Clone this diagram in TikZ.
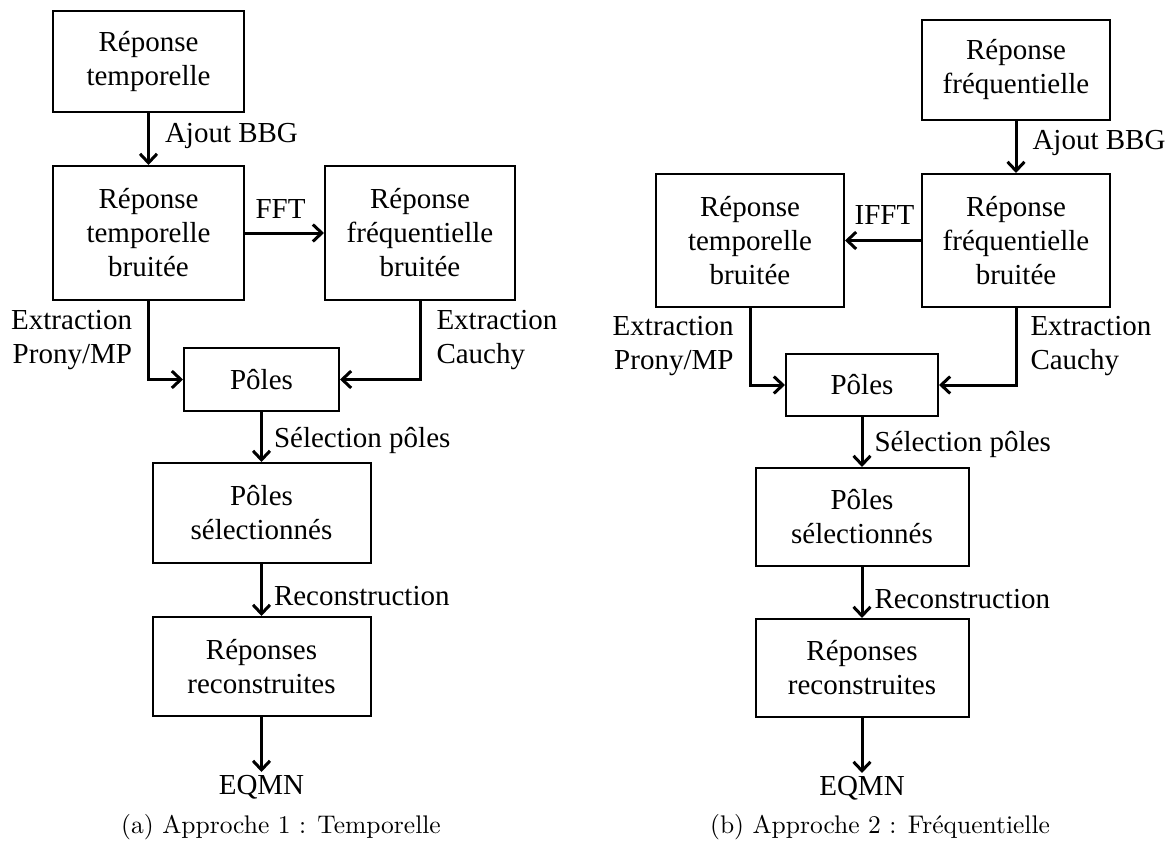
\documentclass[tikz,border=0pt]{standalone}
\usepackage{fontspec}
\usetikzlibrary{positioning,arrows.meta}
\IfFontExistsTF{LiberationSerif-Regular.ttf}
  {\setmainfont{LiberationSerif-Regular.ttf}}
  {\setmainfont{Liberation Serif}}
\newfontfamily\capfont{lmroman10-regular.otf}
\tikzset{
  >={Straight Barb[length=9pt,width=17pt]},
}

\begin{document}
\begin{tikzpicture}[
  x=1pt,y=-1pt,
  box/.style={draw, line width=2pt, align=center, inner sep=0pt,
    font=\fontsize{29}{34}\selectfont},
  lbl/.style={inner sep=3pt, font=\fontsize{29}{34}\selectfont},
  arr/.style={->, line width=3pt},
  captxt/.style={font=\capfont\fontsize{25.5}{30}\selectfont}
]
\useasboundingbox (0,0) rectangle (1171,843);

% (a) approche temporelle
\node[box, minimum width=191pt, minimum height=101pt] (T1) at (148.5,61.5) {Réponse\\temporelle};
\node[box, minimum width=191pt, minimum height=134pt, below=52pt of T1] (T2) {Réponse\\temporelle\\bruitée};
\node[box, minimum width=190pt, minimum height=134pt, right=79pt of T2] (T3) {Réponse\\fréquentielle\\bruitée};
\node[box, minimum width=155pt, minimum height=63pt] (T4) at (261.5,379.5) {Pôles};
\node[box, minimum width=218pt, minimum height=100pt, below=50pt of T4] (T5) {Pôles\\sélectionnés};
\node[box, minimum width=218pt, minimum height=99pt, below=52pt of T5] (T6) {Réponses\\reconstruites};
\node[lbl, below=55pt of T6] (T7) {EQMN};

\draw[arr] (T1) -- node[lbl, right=12pt, pos=0.44] {Ajout BBG} (T2);
\draw[arr] (T2) -- node[lbl, above=10pt, pos=0.45] {FFT} (T3);
\draw[arr] (T2.south) |- node[lbl, left=12pt, pos=0.25, align=right] {Extraction\\Prony/MP} (T4.west);
\draw[arr] (T3.south) |- node[lbl, right=12pt, pos=0.25, align=left] {Extraction\\Cauchy} (T4.east);
\draw[arr] (T4) -- node[lbl, right=8pt, pos=0.56] {Sélection pôles} (T5);
\draw[arr] (T5) -- node[lbl, right=8pt, pos=0.62] {Reconstruction} (T6);
\draw[arr] (T6) -- (T7);

\node[captxt] (capA) at (281,827) {(a) Approche 1 : Temporelle};

% (b) approche frequentielle
\node[box, minimum width=188pt, minimum height=100pt] (F1) at (1016,70) {Réponse\\fréquentielle};
\node[box, minimum width=188pt, minimum height=133pt, below=52pt of F1] (F2) {Réponse\\fréquentielle\\bruitée};
\node[box, minimum width=188pt, minimum height=133pt, left=76pt of F2] (F3) {Réponse\\temporelle\\bruitée};
\node[box, minimum width=152pt, minimum height=62pt] (F4) at (862,385) {Pôles};
\node[box, minimum width=213pt, minimum height=98pt, below=50pt of F4] (F5) {Pôles\\sélectionnés};
\node[box, minimum width=213pt, minimum height=98pt, below=51pt of F5] (F6) {Réponses\\reconstruites};
\node[lbl, below=55pt of F6] (F7) {EQMN};

\draw[arr] (F1) -- node[lbl, right=12pt, pos=0.42] {Ajout BBG} (F2);
\draw[arr] (F2) -- node[lbl, above=12pt, pos=0.48] {IFFT} (F3);
\draw[arr] (F3.south) |- node[lbl, left=12pt, pos=0.25, align=right] {Extraction\\Prony/MP} (F4.west);
\draw[arr] (F2.south) |- node[lbl, right=10pt, pos=0.25, align=left] {Extraction\\Cauchy} (F4.east);
\draw[arr] (F4) -- node[lbl, right=8pt, pos=0.54] {Sélection pôles} (F5);
\draw[arr] (F5) -- node[lbl, right=8pt, pos=0.62] {Reconstruction} (F6);
\draw[arr] (F6) -- (F7);

\node[captxt] (capB) at (880,827) {(b) Approche 2 : Fréquentielle};
\end{tikzpicture}
\end{document}
